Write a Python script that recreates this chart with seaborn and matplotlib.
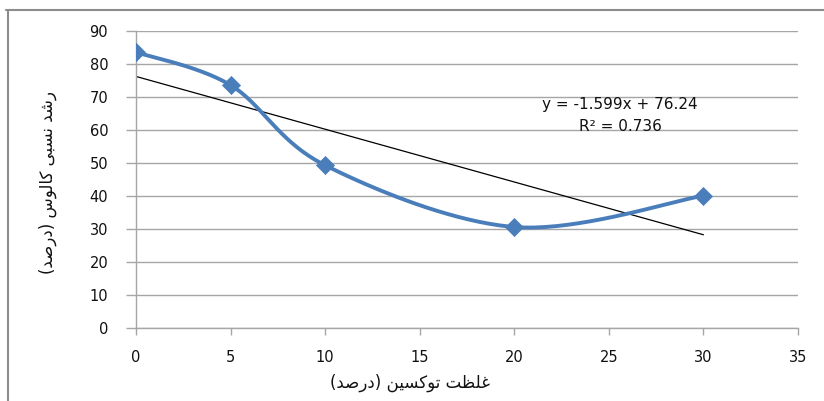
import numpy as np
import pandas as pd
import seaborn as sns
import matplotlib
matplotlib.use("Agg")
import matplotlib.pyplot as plt
from matplotlib.lines import Line2D

# ---- data ----
toxin = [0, 5, 10, 20, 30]
callus = [83.6, 73.6, 49.3, 30.6, 40.1]
x_ticks = [0, 5, 10, 15, 20, 25, 30, 35]
y_ticks = [0, 10, 20, 30, 40, 50, 60, 70, 80, 90]
xlabel_text = "غلظت توکسین (درصد)"
ylabel_text = "رشد نسبی کالوس (درصد)"
eq_text = "y = -1.599x + 76.24"
r2_text = "R² = 0.736"

# ---- minimal Arabic shaping (matplotlib has no complex text layout) ----
FORMS = {
    'ا': ('\uFE8D', '\uFE8E', None, None),
    'ب': ('\uFE8F', '\uFE90', '\uFE91', '\uFE92'),
    'ت': ('\uFE95', '\uFE96', '\uFE97', '\uFE98'),
    'د': ('\uFEA9', '\uFEAA', None, None),
    'ر': ('\uFEAD', '\uFEAE', None, None),
    'س': ('\uFEB1', '\uFEB2', '\uFEB3', '\uFEB4'),
    'ش': ('\uFEB5', '\uFEB6', '\uFEB7', '\uFEB8'),
    'ص': ('\uFEB9', '\uFEBA', '\uFEBB', '\uFEBC'),
    'ظ': ('\uFEC5', '\uFEC6', '\uFEC7', '\uFEC8'),
    'غ': ('\uFECD', '\uFECE', '\uFECF', '\uFED0'),
    'ل': ('\uFEDD', '\uFEDE', '\uFEDF', '\uFEE0'),
    'ن': ('\uFEE5', '\uFEE6', '\uFEE7', '\uFEE8'),
    'و': ('\uFEED', '\uFEEE', None, None),
    'ی': ('\uFBFC', '\uFBFD', '\uFBFE', '\uFBFF'),
    'ک': ('\uFB8E', '\uFB8F', '\uFB90', '\uFB91'),
}


def shape(s):
    out = []
    for i, c in enumerate(s):
        if c not in FORMS:
            out.append(c)
            continue
        iso, fin, ini, med = FORMS[c]
        prev = s[i - 1] if i > 0 else ''
        nxt = s[i + 1] if i + 1 < len(s) else ''
        jp = prev in FORMS and FORMS[prev][2] is not None
        jn = nxt in FORMS and ini is not None
        if jp and jn:
            out.append(med)
        elif jp:
            out.append(fin)
        elif jn:
            out.append(ini)
        else:
            out.append(iso)
    vis = ''.join(reversed(out))
    return vis.translate(str.maketrans('()', ')('))


# ---- Excel-like smoothed curve (cubic Bezier through the points) ----
def smooth(xs, ys, n=40):
    P = np.column_stack([xs, ys]).astype(float)
    pts = []
    for i in range(len(P) - 1):
        p0 = P[i - 1] if i > 0 else P[i]
        p1, p2 = P[i], P[i + 1]
        p3 = P[i + 2] if i + 2 < len(P) else P[i + 1]
        c1 = p1 + (p2 - p0) / 6.0
        c2 = p2 - (p3 - p1) / 6.0
        t = np.linspace(0, 1, n)[:, None]
        seg = ((1 - t) ** 3) * p1 + 3 * ((1 - t) ** 2) * t * c1 + 3 * (1 - t) * t ** 2 * c2 + t ** 3 * p2
        pts.append(seg if i == 0 else seg[1:])
    S = np.vstack(pts)
    return S[:, 0], S[:, 1]


sns.set_theme(style="white")
plt.rcParams['font.family'] = ['DejaVu Sans']

df = pd.DataFrame({"toxin": toxin, "callus": callus})
sx, sy = smooth(toxin, callus)
curve = pd.DataFrame({"x": sx, "y": sy})

fig = plt.figure(figsize=(8.24, 4.01), dpi=100)
ax = fig.add_axes([136 / 824, 1 - 328 / 401, (798 - 136) / 824, (328 - 31) / 401])

blue = "#4A7EBB"
grid_c = "#A6A6A6"

sns.lineplot(data=curve, x="x", y="y", sort=False, ax=ax, color=blue, linewidth=2.8, zorder=3)
sns.regplot(data=df, x="toxin", y="callus", scatter=False, ci=None, truncate=True, ax=ax,
            line_kws=dict(color="black", linewidth=0.9, zorder=2))
sns.scatterplot(data=df, x="toxin", y="callus", ax=ax, marker="D", s=85, color=blue,
                edgecolor=blue, linewidth=0.5, zorder=4)

ax.set_xlim(0, 35)
ax.set_ylim(0, 90)
ax.set_xticks(x_ticks)
ax.set_yticks(y_ticks)
ax.yaxis.grid(True, color=grid_c, linewidth=1)
ax.xaxis.grid(False)
ax.set_axisbelow(True)
for side in ["top", "right"]:
    ax.spines[side].set_visible(False)
for side in ["left", "bottom"]:
    ax.spines[side].set_color(grid_c)
    ax.spines[side].set_linewidth(1)
ax.tick_params(axis="y", direction="out", length=7, width=1, color=grid_c, labelsize=10.5,
               pad=13, left=True, labelcolor="#111111")
ax.tick_params(axis="x", direction="out", length=5, width=1, color=grid_c, labelsize=10.5,
               pad=11, bottom=True, labelcolor="#111111")

ax.set_xlabel("")
ax.set_ylabel("")
fig.text(410 / 824, 1 - 383 / 401, shape(xlabel_text), ha="center", va="center", fontsize=12,
         color="#111111")
fig.text(48 / 824, 1 - 183 / 401, shape(ylabel_text), ha="center", va="center", fontsize=12,
         rotation=90, color="#111111")

ax.text(620 / 824, 1 - 105 / 401, eq_text, transform=fig.transFigure, ha="center", va="center",
        fontsize=11, color="#111111")
ax.text(620 / 824, 1 - 127 / 401, r2_text, transform=fig.transFigure, ha="center", va="center",
        fontsize=11, color="#111111")

# outer chart frame (top and left edges visible)
fig.add_artist(Line2D([6 / 824, 1], [1 - 10 / 401, 1 - 10 / 401], transform=fig.transFigure,
                      color="#8C8C8C", linewidth=1.5))
fig.add_artist(Line2D([8 / 824, 8 / 824], [0, 1 - 10 / 401], transform=fig.transFigure,
                      color="#8C8C8C", linewidth=1.5))

fig.savefig("out.png", dpi=100)
